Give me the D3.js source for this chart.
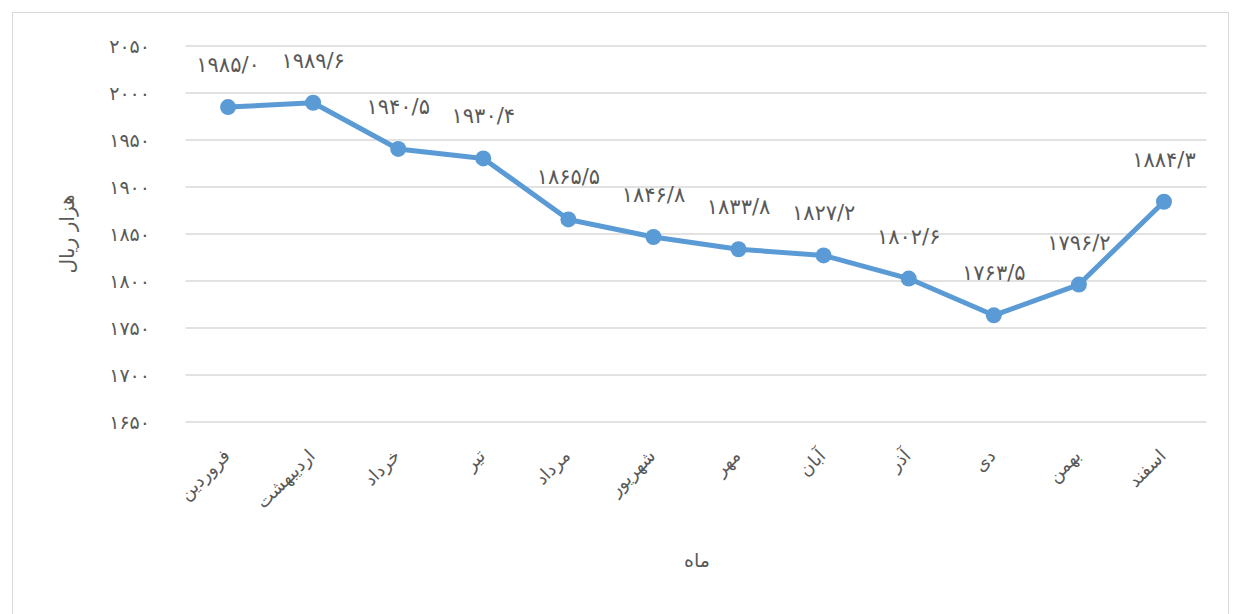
<!DOCTYPE html>
<html lang="fa">
<head>
<meta charset="UTF-8">
<title>chart</title>
<style>
  html, body { margin: 0; padding: 0; background: #fff; }
  svg text { font-family: "DejaVu Sans", "Noto Sans", sans-serif; fill: #595959; }
</style>
</head>
<body>
<svg id="svg" width="1237" height="614"></svg>
<script src="https://cdn.jsdelivr.net/npm/d3@7/dist/d3.min.js"></script>
<script>
  const months = ['فروردین', 'اردیبهشت', 'خرداد', 'تیر', 'مرداد', 'شهریور', 'مهر', 'آبان', 'آذر', 'دی', 'بهمن', 'اسفند']
  const values = [1985.0, 1989.6, 1940.5, 1930.4, 1865.5, 1846.8, 1833.8, 1827.2, 1802.6, 1763.5, 1796.2, 1884.3]
  const yTicks = [1650, 1700, 1750, 1800, 1850, 1900, 1950, 2000, 2050]

  const faDigits = s => String(s).replace(/[0-9]/g, d => '۰۱۲۳۴۵۶۷۸۹'[d]).replace('.', '/')

  const svg = d3.select('#svg')

  // outer frame
  svg.append('rect')
    .attr('x', 12.5).attr('y', 12.5)
    .attr('width', 1216).attr('height', 610)
    .attr('fill', 'none').attr('stroke', '#d9d9d9')

  const xScale = d3.scaleBand()
    .domain(months)
    .range([185.5, 1206.5])

  const yScale = d3.scaleLinear()
    .domain([1650, 2050])
    .range([422, 46])

  // grid
  svg.append('g')
    .selectAll('line')
    .data(yTicks)
    .enter()
    .append('line')
    .attr('x1', 185.5).attr('x2', 1206.5)
    .attr('y1', d => yScale(d)).attr('y2', d => yScale(d))
    .attr('stroke', '#d9d9d9').attr('stroke-width', 1.5)

  // y tick labels
  svg.append('g')
    .selectAll('text')
    .data(yTicks)
    .enter()
    .append('text')
    .attr('x', 150)
    .attr('y', d => yScale(d))
    .attr('dy', '0.35em')
    .attr('text-anchor', 'end')
    .style('font-size', '19px')
    .style('letter-spacing', '6px')
    .attr('direction', 'ltr')
    .text(d => faDigits(d))

  // x tick labels
  svg.append('g')
    .selectAll('text')
    .data(months)
    .enter()
    .append('text')
    .attr('transform', d => `translate(${xScale(d) + xScale.bandwidth() / 2 + 3},${457}) rotate(-45)`)
    .attr('text-anchor', 'end')
    .style('font-size', '18px')
    .text(d => d)

  const cx = (d, i) => xScale(months[i]) + xScale.bandwidth() / 2

  const line = d3.line()
    .x((d, i) => cx(d, i))
    .y(d => yScale(d))

  svg.append('path')
    .datum(values)
    .attr('d', line)
    .attr('fill', 'none')
    .attr('stroke', '#5b9bd5')
    .attr('stroke-width', 5)
    .attr('stroke-linejoin', 'round')

  svg.append('g')
    .selectAll('circle')
    .data(values)
    .enter()
    .append('circle')
    .attr('cx', cx)
    .attr('cy', d => yScale(d))
    .attr('r', 8)
    .attr('fill', '#5b9bd5')

  // data labels
  svg.append('g')
    .selectAll('text')
    .data(values)
    .enter()
    .append('text')
    .attr('x', cx)
    .attr('y', d => yScale(d) - 35)
    .attr('text-anchor', 'middle')
    .attr('direction', 'ltr')
    .style('font-size', '21px')
    .text(d => faDigits(d.toFixed(1)))

  // axis titles
  svg.append('text')
    .attr('transform', 'translate(74,234) rotate(-90)')
    .attr('text-anchor', 'middle')
    .style('font-size', '20px')
    .text('هزار ریال')

  svg.append('text')
    .attr('x', 697).attr('y', 567)
    .attr('text-anchor', 'middle')
    .style('font-size', '19px')
    .text('ماه')
</script>
</body>
</html>
